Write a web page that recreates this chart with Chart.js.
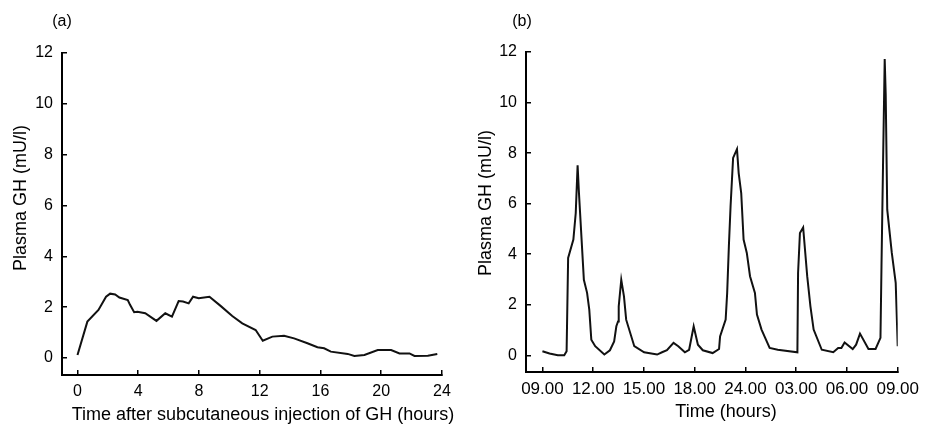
<!DOCTYPE html>
<html>
<head>
<meta charset="utf-8">
<script src="https://cdn.jsdelivr.net/npm/chart.js@4/dist/chart.umd.min.js"></script>
<style>
  body { margin: 0; background: #fff; }
  #wrap { position: relative; width: 931px; height: 425px; }
  canvas { position: absolute; top: 0; }
  #chart-a { left: 0; }
  #chart-b { left: 465px; }
</style>
</head>
<body>
<div id="wrap">
  <canvas id="chart-a" width="465" height="425"></canvas>
  <canvas id="chart-b" width="466" height="425"></canvas>
</div>
<script>
// panel (a): GH after subcutaneous injection
const hoursA = [0, 0.65, 1.38, 1.88, 2.15, 2.48, 2.76, 3.31, 3.46, 3.73, 3.95, 4.46, 5.2, 5.78, 6.22, 6.66, 6.95, 7.32, 7.61, 7.98, 8.69, 9.42, 10.19, 10.85, 11.73, 12.2, 12.83, 13.6, 14.26, 15.14, 15.8, 16.24, 16.68, 17.79, 18.23, 18.89, 19.77, 20.65, 21.2, 21.86, 22.19, 23.07, 23.69];
const ghA = [0.12, 1.43, 1.89, 2.41, 2.53, 2.5, 2.38, 2.28, 2.09, 1.8, 1.82, 1.76, 1.46, 1.76, 1.63, 2.24, 2.22, 2.15, 2.41, 2.35, 2.41, 2.05, 1.65, 1.36, 1.1, 0.68, 0.84, 0.87, 0.77, 0.58, 0.42, 0.38, 0.25, 0.16, 0.08, 0.12, 0.31, 0.31, 0.18, 0.18, 0.08, 0.09, 0.16];
const xTicksA = [0, 4, 8, 12, 16, 20, 24];

// panel (b): 24 h profile, ticks every 3 h
const hoursB = [0, 0.42, 0.91, 1.29, 1.43, 1.52, 1.83, 1.97, 2.08, 2.16, 2.45, 2.64, 2.77, 2.89, 3.12, 3.66, 3.99, 4.24, 4.37, 4.47, 4.51, 4.66, 4.82, 4.95, 5.43, 6.01, 6.78, 7.07, 7.36, 7.75, 8.03, 8.42, 8.67, 8.94, 9.19, 9.48, 10.06, 10.44, 10.5, 10.83, 10.92, 11.02, 11.12, 11.27, 11.5, 11.6, 11.75, 11.89, 12.08, 12.27, 12.56, 12.68, 12.95, 13.43, 13.91, 15.07, 15.11, 15.22, 15.41, 15.65, 15.84, 16.03, 16.51, 17.19, 17.48, 17.67, 17.86, 18.34, 18.54, 18.77, 19.27, 19.69, 19.98, 20.04, 20.13, 20.23, 20.29, 20.38, 20.65, 20.88, 21.0];
const ghB = [0.16, 0.07, 0.0, 0.0, 0.16, 3.85, 4.58, 5.63, 7.52, 6.42, 2.99, 2.47, 1.81, 0.62, 0.36, 0.03, 0.2, 0.55, 1.15, 1.34, 1.94, 2.99, 2.33, 1.41, 0.36, 0.12, 0.03, 0.12, 0.2, 0.49, 0.36, 0.12, 0.22, 1.15, 0.42, 0.2, 0.09, 0.25, 0.75, 1.41, 2.47, 4.31, 5.89, 7.81, 8.16, 7.21, 6.42, 4.58, 4.05, 3.13, 2.47, 1.61, 1.02, 0.29, 0.22, 0.12, 3.26, 4.84, 5.06, 3.13, 1.94, 1.02, 0.22, 0.12, 0.29, 0.29, 0.51, 0.25, 0.42, 0.86, 0.25, 0.25, 0.69, 3.52, 7.48, 11.72, 10.3, 5.76, 4.05, 2.87, 0.36];
const xTicksB = [0, 3, 6, 9, 12, 15, 18, 21];
const xLabelsB = ['09.00', '12.00', '15.00', '18.00', '24.00', '03.00', '06.00', '09.00'];

const yTicks = [0, 2, 4, 6, 8, 10, 12];
const yTitle = 'Plasma GH (mU/l)';
const xTitleA = 'Time after subcutaneous injection of GH (hours)';
const xTitleB = 'Time (hours)';

Chart.defaults.font.family = '"Liberation Sans", Arial, Helvetica, sans-serif';
Chart.defaults.color = '#000';

// axis titles / panel letters placed where the figure has them
const panelText = {
  id: 'panelText',
  afterDraw(chart, args, opts) {
    const ctx = chart.ctx;
    (opts.items || []).forEach(it => {
      ctx.save();
      ctx.font = `${it.size}px "Liberation Sans", Arial, sans-serif`;
      ctx.fillStyle = '#000';
      ctx.textAlign = 'center';
      ctx.textBaseline = 'middle';
      ctx.translate(it.x, it.y);
      if (it.rot) ctx.rotate(-Math.PI / 2);
      ctx.fillText(it.text, 0, 0);
      ctx.restore();
    });
  }
};

function axisStyle() {
  return {
    border: { display: true, color: '#000', width: 2 },
    grid: { drawOnChartArea: false, drawTicks: true, tickLength: -5, color: '#000', lineWidth: 1.5 }
  };
}

function buildChart(id, xs, ys, cfg) {
  const ctx = document.getElementById(id).getContext('2d');
  return new Chart(ctx, {
    type: 'line',
    data: {
      datasets: [{
        data: xs.map((x, i) => ({ x, y: ys[i] })),
        borderColor: '#111',
        borderWidth: 2,
        pointRadius: 0,
        tension: 0,
        fill: false
      }]
    },
    options: {
      responsive: false,
      animation: false,
      layout: { padding: cfg.padding },
      plugins: {
        legend: { display: false },
        tooltip: { enabled: false },
        panelText: { items: cfg.texts }
      },
      scales: {
        x: {
          type: 'linear',
          min: cfg.xMin,
          max: cfg.xMax,
          ...axisStyle(),
          afterBuildTicks: s => { s.ticks = cfg.xTicks.map(v => ({ value: v })); },
          afterFit: s => { s.height = cfg.xHeight; },
          ticks: {
            autoSkip: false,
            maxRotation: 0,
            padding: 12,
            font: { size: cfg.xFont },
            callback: cfg.xLabel
          }
        },
        y: {
          min: cfg.yMin,
          max: 12,
          ...axisStyle(),
          afterBuildTicks: s => { s.ticks = yTicks.map(v => ({ value: v })); },
          afterFit: s => { s.width = cfg.yWidth; },
          ticks: { padding: 14, font: { size: 16 } }
        }
      }
    },
    plugins: [panelText]
  });
}

buildChart('chart-a', hoursA, ghA, {
  padding: { left: 0, right: 23, top: 53, bottom: 0 },
  xMin: -1.02, xMax: 24, yMin: -0.67,
  xTicks: xTicksA, xHeight: 50, yWidth: 62, xFont: 16,
  xLabel: v => String(v),
  texts: [
    { text: '(a)', x: 62, y: 22, size: 16 },
    { text: yTitle, x: 21, y: 198, size: 18, rot: true },
    { text: xTitleA, x: 263, y: 415, size: 18 }
  ]
});

buildChart('chart-b', hoursB, ghB, {
  padding: { left: 0, right: 25, top: 52, bottom: 0 },
  xMin: -0.97, xMax: 21, yMin: -0.66,
  xTicks: xTicksB, xHeight: 53, yWidth: 61, xFont: 17,
  xLabel: (v, i) => xLabelsB[i],
  texts: [
    { text: '(b)', x: 57, y: 22, size: 16 },
    { text: yTitle, x: 21, y: 203, size: 18, rot: true },
    { text: xTitleB, x: 261, y: 412, size: 18 }
  ]
});
</script>
</body>
</html>
